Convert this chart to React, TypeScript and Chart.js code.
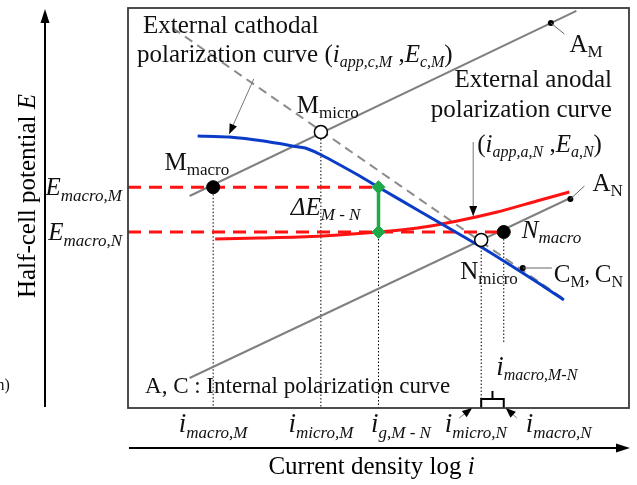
import React, { useEffect, useRef } from 'react';
import { Chart, registerables } from 'chart.js';

Chart.register(...registerables);

const FONT = '"Liberation Serif", "Times New Roman", serif';

// Characteristic current densities (log i, arbitrary units 0..10)
const I_MACRO_M = 1.7;
const I_MICRO_M = 3.85;
const I_G_MN = 5.0;
const I_MICRO_N = 7.05;
const I_MACRO_N = 7.5;
// Characteristic potentials (E, arbitrary units 0..10)
const E_MACRO_M = 5.52;
const E_MACRO_N = 4.4;
const E_MICRO_M = 6.9;
const E_MICRO_N = 4.2;

// External cathodal polarization curve (blue)
const cathodicLogI = [1.39, 2.02, 2.71, 3.41, 3.54, 3.86, 4.59, 5.0, 5.78, 7.05, 8.16, 8.7];
const cathodicE = [6.8, 6.775, 6.675, 6.525, 6.5, 6.325, 5.825, 5.52, 4.95, 4.025, 3.15, 2.7];
// External anodal polarization curve (red)
const anodicLogI = [1.74, 2.61, 3.41, 4.2, 5.0, 5.78, 6.57, 7.37, 8.16, 8.81];
const anodicE = [4.225, 4.25, 4.275, 4.325, 4.4, 4.5, 4.675, 4.9, 5.175, 5.4];
// Internal polarization curves (grey)
const internalAnodicMLogI = [1.23, 8.95];
const internalAnodicME = [5.3, 9.93];
const internalAnodicNLogI = [1.23, 8.87];
const internalAnodicNE = [0.75, 5.275];
const internalCathodicLogI = [0.89, 8.67];
const internalCathodicE = [9.5, 2.75];
// Small markers: A_M, A_N, C_M/C_N
const markerLogI = [8.44, 8.83, 7.88];
const markerE = [9.625, 5.225, 3.5];
// Axis extents
const X_MIN = 0, X_MAX = 10, Y_MIN = 0, Y_MAX = 10;
const DOTTED_STOP_MACRO_N = 1.625;
const BRACKET_LEVEL = 0.225;
const BRACKET_TICK = 0.425;

const pts = (xs: number[], ys: number[]) => xs.map((x, i) => ({ x, y: ys[i] }));

type Run = { t: string; it?: boolean; sub?: boolean; size?: number; dy?: number };
type Label = { x: number; y: number; a: 'left' | 'right' | 'center'; runs: Run[] };

const sub = (t: string, it = false, size = 17, dy = 5): Run => ({ t, it, sub: true, size, dy });

const labels: Label[] = [
  { x: 0.3, y: 9.375, a: 'left', runs: [{ t: 'External cathodal' }] },
  {
    x: 0.18, y: 8.65, a: 'left',
    runs: [{ t: 'polarization curve (' }, { t: 'i', it: true }, sub('app,c,M', true, 16), { t: ' ,' }, { t: 'E', it: true }, sub('c,M', true, 16), { t: ')' }],
  },
  { x: 3.37, y: 7.375, a: 'left', runs: [{ t: 'M' }, sub('micro')] },
  { x: 0.73, y: 5.95, a: 'left', runs: [{ t: 'M' }, sub('macro')] },
  { x: 9.66, y: 8.025, a: 'right', runs: [{ t: 'External anodal' }] },
  { x: 9.66, y: 7.275, a: 'right', runs: [{ t: 'polarization curve' }] },
  {
    x: 6.97, y: 6.4, a: 'left',
    runs: [{ t: '(' }, { t: 'i', it: true }, sub('app,a,N', true, 16), { t: ' ,' }, { t: 'E', it: true }, sub('a,N', true, 16), { t: ')' }],
  },
  { x: 8.81, y: 8.9, a: 'left', runs: [{ t: 'A' }, sub('M')] },
  { x: 9.27, y: 5.425, a: 'left', runs: [{ t: 'A' }, sub('N')] },
  { x: 7.86, y: 4.25, a: 'left', runs: [{ t: 'N', it: true }, sub('macro', true)] },
  { x: 6.63, y: 3.225, a: 'left', runs: [{ t: 'N' }, sub('micro')] },
  { x: 8.5, y: 3.15, a: 'left', runs: [{ t: 'C' }, sub('M', false, 16), { t: ', ', size: 20 }, { t: 'C' }, sub('N', false, 16)] },
  { x: 3.25, y: 4.825, a: 'left', runs: [{ t: '\u0394E', it: true }, sub('M - N', true)] },
  { x: 0.34, y: 0.375, a: 'left', runs: [{ t: 'A, C : Internal polarization curve', size: 23 }] },
  // potential labels (left of the frame)
  { x: -0.12, y: E_MACRO_M - 0.2, a: 'right', runs: [{ t: 'E', it: true }, sub('macro,M', true, 17, 6)] },
  { x: -0.12, y: E_MACRO_N - 0.2, a: 'right', runs: [{ t: 'E', it: true }, sub('macro,N', true, 17, 6)] },
  // current density labels (below the frame)
  { x: I_MACRO_M, y: -0.6, a: 'center', runs: [{ t: 'i', it: true, size: 27 }, sub('macro,M', true, 17, 6)] },
  { x: I_MICRO_M, y: -0.6, a: 'center', runs: [{ t: 'i', it: true, size: 27 }, sub('micro,M', true, 17, 6)] },
  { x: 4.85, y: -0.6, a: 'left', runs: [{ t: 'i', it: true, size: 27 }, sub('g,M - N', true, 17, 6)] },
  { x: 6.32, y: -0.6, a: 'left', runs: [{ t: 'i', it: true, size: 27 }, sub('micro,N', true, 17, 6)] },
  { x: 7.94, y: -0.6, a: 'left', runs: [{ t: 'i', it: true, size: 27 }, sub('macro,N', true, 17, 6)] },
  { x: 7.35, y: 0.825, a: 'left', runs: [{ t: 'i', it: true, size: 27 }, sub('macro,M-N', true, 16, 5)] },
  { x: -2.36, y: 0.45, a: 'right', runs: [{ t: 'n)', size: 16 }] },
];

// arrows / leaders in data units: [x1, y1, x2, y2, head]
const arrows: [number, number, number, number, boolean][] = [
  [2.51, 8.225, 2.02, 6.85, true],
  [6.89, 6.65, 6.89, 4.8, true],
  [6.61, -0.25, 6.87, 0.0, true],
  [7.76, -0.25, 7.54, 0.0, true],
  [8.44, 9.625, 8.71, 9.35, false],
  [8.83, 5.225, 9.11, 5.55, false],
  [7.88, 3.5, 8.46, 3.5, false],
];

function fontOf(r: Run) {
  const size = r.size ?? (r.sub ? 17 : 25);
  return `${r.it ? 'italic ' : ''}${size}px ${FONT}`;
}

function drawRich(ctx: CanvasRenderingContext2D, x: number, y: number, runs: Run[], align: 'left' | 'right' | 'center') {
  const widths = runs.map((r) => {
    ctx.font = fontOf(r);
    return ctx.measureText(r.t).width;
  });
  const total = widths.reduce((s, w) => s + w, 0);
  let cx = align === 'left' ? x : align === 'right' ? x - total : x - total / 2;
  ctx.textAlign = 'left';
  ctx.textBaseline = 'alphabetic';
  runs.forEach((r, i) => {
    ctx.font = fontOf(r);
    ctx.fillText(r.t, cx, y + (r.sub ? r.dy ?? 5 : 0));
    cx += widths[i];
  });
}

function arrowHead(ctx: CanvasRenderingContext2D, x1: number, y1: number, x2: number, y2: number, len = 11, half = 4) {
  const ang = Math.atan2(y2 - y1, x2 - x1);
  ctx.beginPath();
  ctx.moveTo(x2, y2);
  ctx.lineTo(x2 - len * Math.cos(ang) + half * Math.sin(ang), y2 - len * Math.sin(ang) - half * Math.cos(ang));
  ctx.lineTo(x2 - len * Math.cos(ang) - half * Math.sin(ang), y2 - len * Math.sin(ang) + half * Math.cos(ang));
  ctx.closePath();
  ctx.fill();
}

const decorPlugin = {
  id: 'decor',
  beforeDraw(chart: any) {
    const ctx = chart.ctx as CanvasRenderingContext2D;
    ctx.save();
    ctx.fillStyle = '#ffffff';
    ctx.fillRect(0, 0, chart.width, chart.height);
    ctx.restore();
  },
  afterDraw(chart: any) {
    const ctx = chart.ctx as CanvasRenderingContext2D;
    const { left, right, top, bottom } = chart.chartArea;
    const xs = chart.scales.x;
    const ys = chart.scales.y;
    ctx.save();
    // frame
    ctx.strokeStyle = '#3a3a3a';
    ctx.lineWidth = 1.8;
    ctx.strokeRect(left, top, right - left, bottom - top);

    // axis arrows
    ctx.strokeStyle = '#000';
    ctx.fillStyle = '#000';
    ctx.lineWidth = 2;
    const ax = left - 83;
    ctx.beginPath();
    ctx.moveTo(ax, bottom - 1);
    ctx.lineTo(ax, top + 10);
    ctx.stroke();
    arrowHead(ctx, ax, bottom, ax, top + 1, 14, 4.5);
    const ay = bottom + 40;
    ctx.beginPath();
    ctx.moveTo(left + 1, ay);
    ctx.lineTo(right - 8, ay);
    ctx.stroke();
    arrowHead(ctx, left, ay, right + 1, ay, 14, 4.5);

    // axis titles
    ctx.fillStyle = '#000';
    drawRich(ctx, (left + right) / 2 - 7, bottom + 66, [{ t: 'Current density log ' }, { t: 'i', it: true }], 'center');
    ctx.save();
    ctx.translate(left - 93, (top + bottom) / 2 - 12);
    ctx.rotate(-Math.PI / 2);
    drawRich(ctx, 0, 0, [{ t: 'Half-cell potential ' }, { t: 'E', it: true }], 'center');
    ctx.restore();

    // arrows and leaders
    arrows.forEach(([x1, y1, x2, y2, head]) => {
      const p1x = xs.getPixelForValue(x1), p1y = ys.getPixelForValue(y1);
      const p2x = xs.getPixelForValue(x2), p2y = ys.getPixelForValue(y2);
      ctx.strokeStyle = head ? '#777' : '#666';
      ctx.lineWidth = 1;
      ctx.beginPath();
      ctx.moveTo(p1x, p1y);
      ctx.lineTo(p2x, p2y);
      ctx.stroke();
      if (head) {
        ctx.fillStyle = '#000';
        arrowHead(ctx, p1x, p1y, p2x, p2y, 10, 4);
      }
    });

    // text labels
    ctx.fillStyle = '#111';
    labels.forEach((l) => {
      drawRich(ctx, xs.getPixelForValue(l.x), ys.getPixelForValue(l.y), l.runs, l.a);
    });
    ctx.restore();
  },
};

const line = (data: any[], color: string, width: number, extra: any = {}) => ({
  data,
  showLine: true,
  borderColor: color,
  backgroundColor: color,
  borderWidth: width,
  pointRadius: 0,
  pointHoverRadius: 0,
  fill: false,
  ...extra,
});

export default function App() {
  const ref = useRef<HTMLCanvasElement>(null);
  useEffect(() => {
    if (!ref.current) return;
    const dotted = { borderDash: [1.5, 2] };
    const chart = new Chart(ref.current, {
      type: 'scatter',
      data: {
        datasets: [
          // open circles (micro points)
          {
            data: pts([I_MICRO_M, I_MICRO_N], [E_MICRO_M, E_MICRO_N]),
            pointRadius: 6.5, pointBackgroundColor: '#fff', pointBorderColor: '#000', pointBorderWidth: 1.5, showLine: false,
          },
          // filled circles (macro points)
          {
            data: pts([I_MACRO_M, I_MACRO_N], [E_MACRO_M, E_MACRO_N]),
            pointRadius: 6.5, pointBackgroundColor: '#000', pointBorderColor: '#000', pointBorderWidth: 1, showLine: false,
          },
          // small markers
          {
            data: pts(markerLogI, markerE),
            pointRadius: 3, pointBackgroundColor: '#000', pointBorderColor: '#000', pointBorderWidth: 0, showLine: false,
          },
          // delta E segment
          line(pts([I_G_MN, I_G_MN], [E_MACRO_N, E_MACRO_M]), '#1faa4a', 3.5, {
            pointRadius: 6.5, pointStyle: 'rectRot', pointBackgroundColor: '#1faa4a', pointBorderColor: '#1faa4a', pointBorderWidth: 1,
          }),
          line(pts(cathodicLogI, cathodicE), '#0a3cc8', 3, { tension: 0.2 }),
          line(pts(anodicLogI, anodicE), '#ff1212', 3, { tension: 0.3 }),
          line(pts([X_MIN, I_G_MN], [E_MACRO_M, E_MACRO_M]), '#ff1212', 3, { borderDash: [13, 8] }),
          line(pts([X_MIN, I_MACRO_N], [E_MACRO_N, E_MACRO_N]), '#ff1212', 3, { borderDash: [13, 8] }),
          line(pts(internalCathodicLogI, internalCathodicE), '#8a8a8a', 2, { borderDash: [9, 6] }),
          line(pts(internalAnodicMLogI, internalAnodicME), '#808080', 2),
          line(pts(internalAnodicNLogI, internalAnodicNE), '#808080', 2),
          // dotted drop lines
          line(pts([I_MACRO_M, I_MACRO_M], [E_MACRO_M, Y_MIN]), '#000', 1, dotted),
          line(pts([I_MICRO_M, I_MICRO_M], [E_MICRO_M, Y_MIN]), '#000', 1, dotted),
          line(pts([I_G_MN, I_G_MN], [E_MACRO_N, Y_MIN]), '#000', 1, dotted),
          line(pts([I_MICRO_N, I_MICRO_N], [E_MICRO_N, Y_MIN]), '#000', 1, dotted),
          line(pts([I_MACRO_N, I_MACRO_N], [E_MACRO_N, DOTTED_STOP_MACRO_N]), '#000', 1, dotted),
          // bracket for i_macro,M-N
          line(pts([I_MICRO_N, I_MICRO_N, I_MACRO_N, I_MACRO_N], [Y_MIN, BRACKET_LEVEL, BRACKET_LEVEL, Y_MIN]), '#000', 2),
          line(pts([(I_MICRO_N + I_MACRO_N) / 2, (I_MICRO_N + I_MACRO_N) / 2], [BRACKET_LEVEL, BRACKET_TICK]), '#000', 2),
        ] as any,
      },
      options: {
        animation: false,
        responsive: false,
        devicePixelRatio: 1,
        layout: { padding: { left: 128, right: 4, top: 8, bottom: 77 } },
        plugins: { legend: { display: false }, tooltip: { enabled: false }, title: { display: false } },
        events: [],
        scales: {
          x: { type: 'linear', min: X_MIN, max: X_MAX, display: false },
          y: { type: 'linear', min: Y_MIN, max: Y_MAX, display: false },
        },
      } as any,
      plugins: [decorPlugin],
    });
    return () => chart.destroy();
  }, []);
  return (
    <div style={{ position: 'fixed', left: 0, top: 0, width: 637, height: 485, background: '#fff' }}>
      <canvas ref={ref} width={637} height={485} style={{ display: 'block', width: 637, height: 485 }} />
    </div>
  );
}
